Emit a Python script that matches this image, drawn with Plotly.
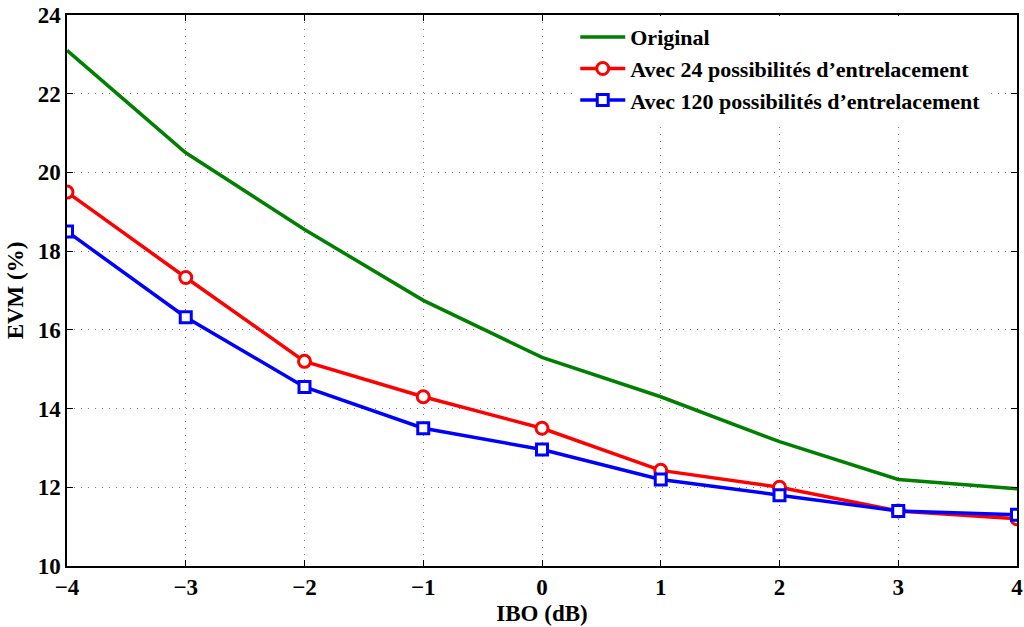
import plotly.graph_objects as go

ibo = [-4, -3, -2, -1, 0, 1, 2, 3, 4]
evm_original = [23.1, 20.5, 18.55, 16.75, 15.3, 14.3, 13.16, 12.2, 11.96]
evm_24 = [19.5, 17.33, 15.2, 14.3, 13.5, 12.43, 12.0, 11.4, 11.2]
evm_120 = [18.5, 16.32, 14.55, 13.5, 12.96, 12.2, 11.8, 11.4, 11.3]
y_ticks = [10, 12, 14, 16, 18, 20, 22, 24]

names = ["Original", "Avec 24 possibilités d\u2019entrelacement",
         "Avec 120 possibilités d\u2019entrelacement"]

FONT = "Liberation Serif"

fig = go.Figure()
fig.add_trace(go.Scatter(x=ibo, y=evm_original, mode="lines", name=names[0],
                         line=dict(color="#007f00", width=3.5)))
fig.add_trace(go.Scatter(x=ibo, y=evm_24, mode="lines+markers", name=names[1],
                         line=dict(color="#ff0000", width=3.5),
                         marker=dict(symbol="circle", size=12, color="white",
                                     line=dict(color="#ff0000", width=3))))
fig.add_trace(go.Scatter(x=ibo, y=evm_120, mode="lines+markers", name=names[2],
                         line=dict(color="#0000ff", width=3.5),
                         marker=dict(symbol="square", size=11, color="white",
                                     line=dict(color="#0000ff", width=3))))

axis_common = dict(
    showgrid=True, gridcolor="#777777", griddash="1px,6px", gridwidth=1,
    showline=True, linecolor="black", linewidth=1.5, mirror="ticks",
    ticks="inside", ticklen=6, tickcolor="black", tickwidth=1,
    zeroline=False, automargin=False, ticklabeloverflow="allow",
    tickfont=dict(family=FONT, size=23, color="black", weight="bold"),
)

fig.update_xaxes(range=[-4, 4], tickvals=ibo, **axis_common,
                 title=dict(text="IBO (dB)", font=dict(family=FONT, size=23, color="black", weight="bold"), standoff=6))
fig.update_yaxes(range=[10, 24], tickvals=y_ticks, **axis_common,
                 title=dict(text="EVM (%)", font=dict(family=FONT, size=23, color="black", weight="bold"), standoff=8))

fig.update_layout(
    width=1024, height=627,
    margin=dict(l=67, r=7, t=15, b=61),
    plot_bgcolor="white", paper_bgcolor="white",
    font=dict(family=FONT, color="black"),
    legend=dict(x=0.535, y=0.998, xanchor="left", yanchor="top",
                bgcolor="white", borderwidth=0,
                font=dict(family=FONT, size=22, color="black", weight="bold"),
                itemwidth=45, tracegroupgap=0),
)

fig.write_html("out.html", config={"displayModeBar": False},
               post_script="document.body.style.margin='0';")
